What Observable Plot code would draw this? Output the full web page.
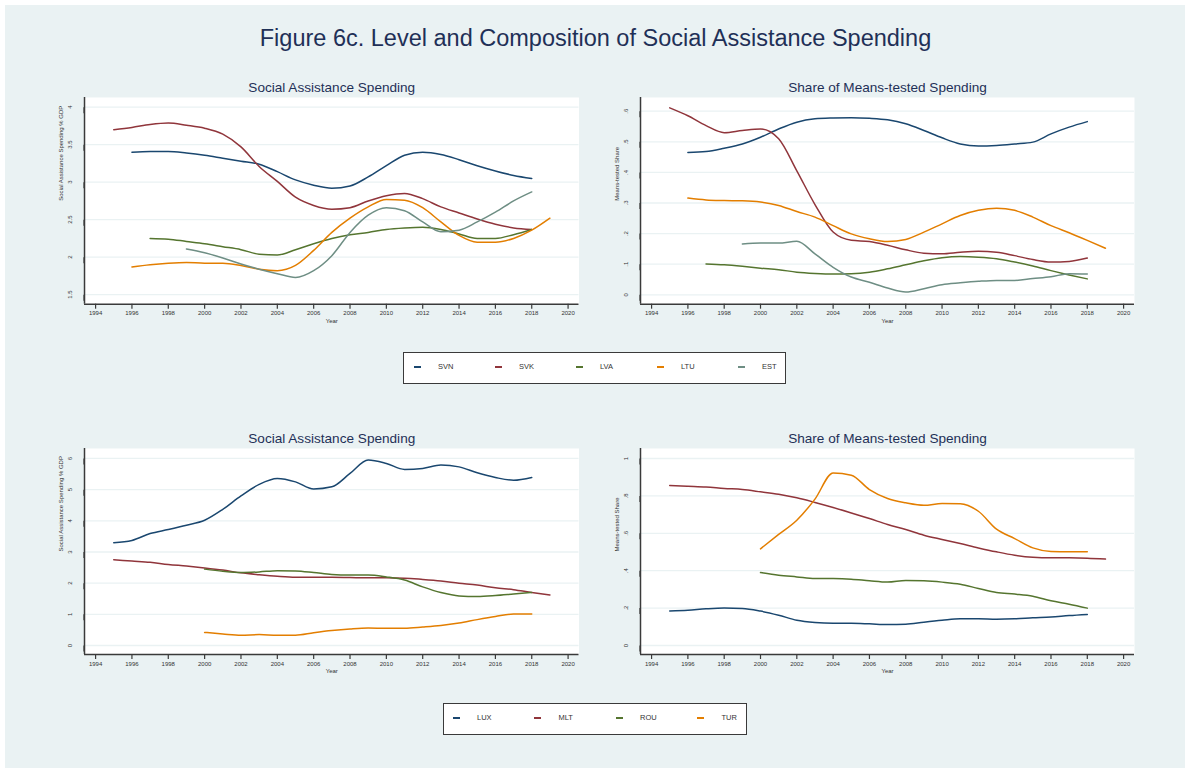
<!DOCTYPE html>
<html>
<head>
<meta charset="utf-8">
<script src="https://cdn.jsdelivr.net/npm/d3@7"></script>
<script src="https://cdn.jsdelivr.net/npm/@observablehq/plot@0.6"></script>
<style>
  body { margin: 0; background: #ffffff; font-family: "Liberation Sans", Arial, sans-serif; }
  #page { position: relative; width: 1185px; height: 768px; overflow: hidden; }
  #bg { position: absolute; left: 5px; top: 5px; width: 1180px; height: 763px; background: #eaf2f3; }
  #mainTitle { position: absolute; left: 0; width: 1191px; top: 23px; text-align: center; font-size: 23.5px; color: #1f3057; line-height: 30px; }
  .legend { position: absolute; background: #ffffff; border: 1.5px solid #3a3a3a; box-sizing: border-box; }
  .legend .sw { position: absolute; width: 7px; height: 2px; }
  .legend .lt { position: absolute; font-size: 7.5px; color: #333; line-height: 10px; }
</style>
</head>
<body>
<div id="page">
  <div id="bg"></div>
  <div id="mainTitle"></div>
</div>
<script>
// ---------------- DATA ----------------
const mainTitle = "Figure 6c. Level and Composition of Social Assistance Spending";
const panelTitleLevel = "Social Assistance Spending";
const panelTitleShare = "Share of Means-tested Spending";
const yLabelLevel = "Social Assistance Spending % GDP";
const yLabelShare = "Means-tested Share";
const xLabel = "Year";

const xTicks = [1994, 1996, 1998, 2000, 2002, 2004, 2006, 2008, 2010, 2012, 2014, 2016, 2018, 2020];

// top row countries
const topCountries = ["SVN", "SVK", "LVA", "LTU", "EST"];
const topColors = ["#1a476f", "#90353b", "#55752f", "#e37e00", "#6e8e84"];
// bottom row countries
const botCountries = ["LUX", "MLT", "ROU", "TUR"];
const botColors = ["#1a476f", "#90353b", "#55752f", "#e37e00"];

// Top-left: Social assistance spending, % GDP
const tlTicks = [1.5, 2, 2.5, 3, 3.5, 4];
const tlTickLabels = ["1.5", "2", "2.5", "3", "3.5", "4"];
const tlSVN = [3.40, 3.41, 3.41, 3.39, 3.36, 3.32, 3.28, 3.24, 3.14, 3.03, 2.96, 2.92, 2.95, 3.07, 3.22, 3.36, 3.40, 3.37, 3.30, 3.22, 3.15, 3.09, 3.05]; // 1996-2018
const tlSVK = [3.70, 3.73, 3.77, 3.79, 3.76, 3.72, 3.64, 3.47, 3.21, 3.01, 2.80, 2.69, 2.64, 2.66, 2.75, 2.82, 2.85, 2.78, 2.67, 2.59, 2.51, 2.44, 2.39, 2.37]; // 1995-2018
const tlLVA = [2.25, 2.24, 2.21, 2.18, 2.14, 2.10, 2.04, 2.03, 2.10, 2.18, 2.25, 2.30, 2.33, 2.37, 2.39, 2.40, 2.37, 2.31, 2.25, 2.25, 2.30, 2.37]; // 1997-2018
const tlLTU = [1.87, 1.90, 1.92, 1.93, 1.92, 1.92, 1.89, 1.84, 1.82, 1.89, 2.09, 2.33, 2.52, 2.67, 2.77, 2.76, 2.66, 2.47, 2.29, 2.20, 2.20, 2.25, 2.36, 2.52]; // 1996-2019
const tlEST = [2.11, 2.06, 1.99, 1.91, 1.84, 1.78, 1.73, 1.82, 2.02, 2.33, 2.56, 2.66, 2.62, 2.47, 2.34, 2.36, 2.47, 2.60, 2.75, 2.87]; // 1999-2018

// Top-right: share of means-tested spending
const trTicks = [0, 0.1, 0.2, 0.3, 0.4, 0.5, 0.6];
const trTickLabels = ["0", ".1", ".2", ".3", ".4", ".5", ".6"];
const trSVN = [0.465, 0.468, 0.479, 0.493, 0.515, 0.542, 0.564, 0.575, 0.578, 0.579, 0.577, 0.572, 0.559, 0.537, 0.513, 0.493, 0.486, 0.488, 0.493, 0.499, 0.526, 0.548, 0.566]; // 1996-2018
const trSVK = [0.611, 0.585, 0.553, 0.530, 0.537, 0.542, 0.510, 0.405, 0.295, 0.205, 0.178, 0.174, 0.162, 0.147, 0.136, 0.134, 0.139, 0.142, 0.139, 0.128, 0.115, 0.107, 0.109, 0.120]; // 1995-2018
const trLVA = [0.101, 0.098, 0.093, 0.087, 0.082, 0.074, 0.070, 0.068, 0.069, 0.074, 0.085, 0.098, 0.111, 0.121, 0.125, 0.123, 0.118, 0.107, 0.094, 0.079, 0.065, 0.052]; // 1997-2018
const trLTU = [0.316, 0.310, 0.308, 0.307, 0.303, 0.292, 0.272, 0.254, 0.226, 0.199, 0.183, 0.174, 0.181, 0.205, 0.232, 0.259, 0.276, 0.283, 0.276, 0.254, 0.226, 0.203, 0.178, 0.152]; // 1996-2019
const trEST = [0.166, 0.169, 0.169, 0.175, 0.134, 0.090, 0.058, 0.041, 0.022, 0.009, 0.020, 0.033, 0.039, 0.044, 0.047, 0.047, 0.053, 0.059, 0.069, 0.068]; // 1999-2018

// Bottom-left: Social assistance spending, % GDP
const blTicks = [0, 1, 2, 3, 4, 5, 6];
const blTickLabels = ["0", "1", "2", "3", "4", "5", "6"];
const blLUX = [3.30, 3.37, 3.59, 3.72, 3.86, 4.02, 4.37, 4.80, 5.17, 5.36, 5.25, 5.02, 5.09, 5.52, 5.95, 5.84, 5.65, 5.68, 5.79, 5.73, 5.54, 5.39, 5.30, 5.39]; // 1995-2018
const blMLT = [2.75, 2.71, 2.67, 2.60, 2.55, 2.49, 2.42, 2.33, 2.27, 2.22, 2.19, 2.19, 2.19, 2.18, 2.17, 2.17, 2.16, 2.12, 2.07, 2.00, 1.94, 1.85, 1.79, 1.70, 1.62]; // 1995-2019
const blROU = [2.45, 2.38, 2.34, 2.36, 2.40, 2.39, 2.34, 2.28, 2.26, 2.26, 2.20, 2.10, 1.88, 1.70, 1.59, 1.57, 1.60, 1.65, 1.70]; // 2000-2018
const blTUR = [0.42, 0.37, 0.33, 0.35, 0.33, 0.33, 0.41, 0.48, 0.53, 0.56, 0.55, 0.55, 0.59, 0.64, 0.72, 0.83, 0.93, 1.01, 1.01]; // 2000-2018

// Bottom-right: share of means-tested spending
const brTicks = [0, 0.2, 0.4, 0.6, 0.8, 1];
const brTickLabels = ["0", ".2", ".4", ".6", ".8", "1"];
const brLUX = [0.185, 0.189, 0.196, 0.200, 0.198, 0.184, 0.162, 0.135, 0.123, 0.119, 0.119, 0.116, 0.112, 0.114, 0.125, 0.135, 0.143, 0.143, 0.141, 0.143, 0.148, 0.152, 0.160, 0.166]; // 1995-2018
const brMLT = [0.856, 0.852, 0.848, 0.840, 0.834, 0.822, 0.809, 0.790, 0.765, 0.738, 0.709, 0.679, 0.647, 0.620, 0.590, 0.567, 0.545, 0.522, 0.501, 0.483, 0.472, 0.469, 0.469, 0.467, 0.462]; // 1995-2019
const brROU = [0.390, 0.376, 0.367, 0.358, 0.358, 0.355, 0.346, 0.339, 0.348, 0.346, 0.339, 0.328, 0.305, 0.283, 0.275, 0.264, 0.239, 0.221, 0.200]; // 2000-2018
const brTUR = [0.517, 0.594, 0.670, 0.783, 0.923, 0.911, 0.834, 0.786, 0.763, 0.750, 0.759, 0.758, 0.718, 0.622, 0.572, 0.522, 0.503, 0.501, 0.501]; // 2000-2018

// ---------------- DRAWING ----------------
const page = document.getElementById("page");
document.getElementById("mainTitle").textContent = mainTitle;
const FONT = '"Liberation Sans", Arial, sans-serif';
const TEXT = "#333333";
const AXIS = "#3a3a3a";

function rows(name, start, values) {
  return values.map((v, i) => ({country: name, year: start + i, value: v}));
}

function panel(cfg) {
  const padL = 70, padT = 22, padR = 12, padB = 34;
  const fw = cfg.frame.right - cfg.frame.left, fh = cfg.frame.bottom - cfg.frame.top;
  const labelOf = new Map(cfg.yTicks.map((t, i) => [t, cfg.yTickLabels[i]]));
  const chart = Plot.plot({
    width: fw + padL + padR,
    height: fh + padT + padB,
    marginLeft: padL, marginRight: padR, marginTop: padT, marginBottom: padB,
    style: {background: "transparent", fontFamily: FONT, overflow: "visible"},
    x: {domain: cfg.xDomain},
    y: {domain: cfg.yDomain},
    color: {domain: cfg.countries, range: cfg.colors},
    marks: [
      Plot.frame({fill: "#ffffff", stroke: null}),
      Plot.gridY(cfg.yTicks, {stroke: "#eaf2f3", strokeOpacity: 1, strokeWidth: 1.3}),
      Plot.axisX(xTicks, {tickSize: 5, tickPadding: 2, fontSize: 6, color: TEXT, stroke: AXIS, strokeWidth: 1.2, tickFormat: d => String(d), label: null}),
      Plot.axisY(cfg.yTicks, {tickSize: 6, tickPadding: 8, fontSize: 6, color: TEXT, stroke: AXIS, strokeWidth: 1.2, rotate: -90, textAnchor: "middle", lineAnchor: "middle", tickFormat: d => labelOf.get(d), label: null}),
      Plot.ruleX([cfg.xDomain[0]], {stroke: AXIS, strokeWidth: 1.5}),
      Plot.ruleY([cfg.yDomain[0]], {stroke: AXIS, strokeWidth: 1.5}),
      Plot.line(cfg.data, {x: "year", y: "value", z: "country", stroke: "country", curve: "monotone-x", strokeWidth: 1.5}),
      Plot.text([cfg.yLabel], {frameAnchor: "left", dx: -23, rotate: -90, fontSize: 6, fill: TEXT}),
      Plot.text([xLabel], {frameAnchor: "bottom", dy: 18.5, fontSize: 6, fill: TEXT}),
      Plot.text([cfg.title], {frameAnchor: "top", lineAnchor: "middle", dy: -10, fontSize: 13.6, fill: "#1f3057"})
    ]
  });
  chart.style.position = "absolute";
  chart.style.left = (cfg.frame.left - padL) + "px";
  chart.style.top = (cfg.frame.top - padT) + "px";
  page.appendChild(chart);
}

function legend(box, countries, colors, step, swX, txX) {
  const div = document.createElement("div");
  div.className = "legend";
  div.style.left = box.left + "px";
  div.style.top = box.top + "px";
  div.style.width = (box.right - box.left) + "px";
  div.style.height = (box.bottom - box.top) + "px";
  const mid = (box.bottom - box.top) / 2 - 1.5;
  countries.forEach((c, i) => {
    const sw = document.createElement("div");
    sw.className = "sw";
    sw.style.left = (swX + i * step) + "px";
    sw.style.top = (mid - 1) + "px";
    sw.style.background = colors[i];
    div.appendChild(sw);
    const t = document.createElement("div");
    t.className = "lt";
    t.textContent = c;
    t.style.left = (txX + i * step) + "px";
    t.style.top = (mid - 5) + "px";
    div.appendChild(t);
  });
  page.appendChild(div);
}

const xDomain = [1993.39, 2020.6];

panel({
  frame: {left: 83.5, right: 578, top: 97, bottom: 303.7},
  xDomain, yDomain: [1.373, 4.129],
  yTicks: tlTicks, yTickLabels: tlTickLabels,
  countries: topCountries, colors: topColors,
  yLabel: yLabelLevel, title: panelTitleLevel,
  data: [
    ...rows("SVN", 1996, tlSVN), ...rows("SVK", 1995, tlSVK), ...rows("LVA", 1997, tlLVA),
    ...rows("LTU", 1996, tlLTU), ...rows("EST", 1999, tlEST)
  ]
});

panel({
  frame: {left: 640, right: 1134, top: 97, bottom: 303.7},
  xDomain, yDomain: [-0.0307, 0.6448],
  yTicks: trTicks, yTickLabels: trTickLabels,
  countries: topCountries, colors: topColors,
  yLabel: yLabelShare, title: panelTitleShare,
  data: [
    ...rows("SVN", 1996, trSVN), ...rows("SVK", 1995, trSVK), ...rows("LVA", 1997, trLVA),
    ...rows("LTU", 1996, trLTU), ...rows("EST", 1999, trEST)
  ]
});

panel({
  frame: {left: 83.5, right: 578, top: 448.3, bottom: 654.3},
  xDomain, yDomain: [-0.289, 6.32],
  yTicks: blTicks, yTickLabels: blTickLabels,
  countries: botCountries, colors: botColors,
  yLabel: yLabelLevel, title: panelTitleLevel,
  data: [
    ...rows("LUX", 1995, blLUX), ...rows("MLT", 1995, blMLT),
    ...rows("ROU", 2000, blROU), ...rows("TUR", 2000, blTUR)
  ]
});

panel({
  frame: {left: 640, right: 1134, top: 448.3, bottom: 654.3},
  xDomain, yDomain: [-0.048, 1.0535],
  yTicks: brTicks, yTickLabels: brTickLabels,
  countries: botCountries, colors: botColors,
  yLabel: yLabelShare, title: panelTitleShare,
  data: [
    ...rows("LUX", 1995, brLUX), ...rows("MLT", 1995, brMLT),
    ...rows("ROU", 2000, brROU), ...rows("TUR", 2000, brTUR)
  ]
});

legend({left: 403, top: 352, right: 786, bottom: 383.5}, topCountries, topColors, 81, 9.5, 34);
legend({left: 443, top: 703, right: 747, bottom: 734.5}, botCountries, botColors, 81.5, 8.5, 33);
</script>
</body>
</html>
